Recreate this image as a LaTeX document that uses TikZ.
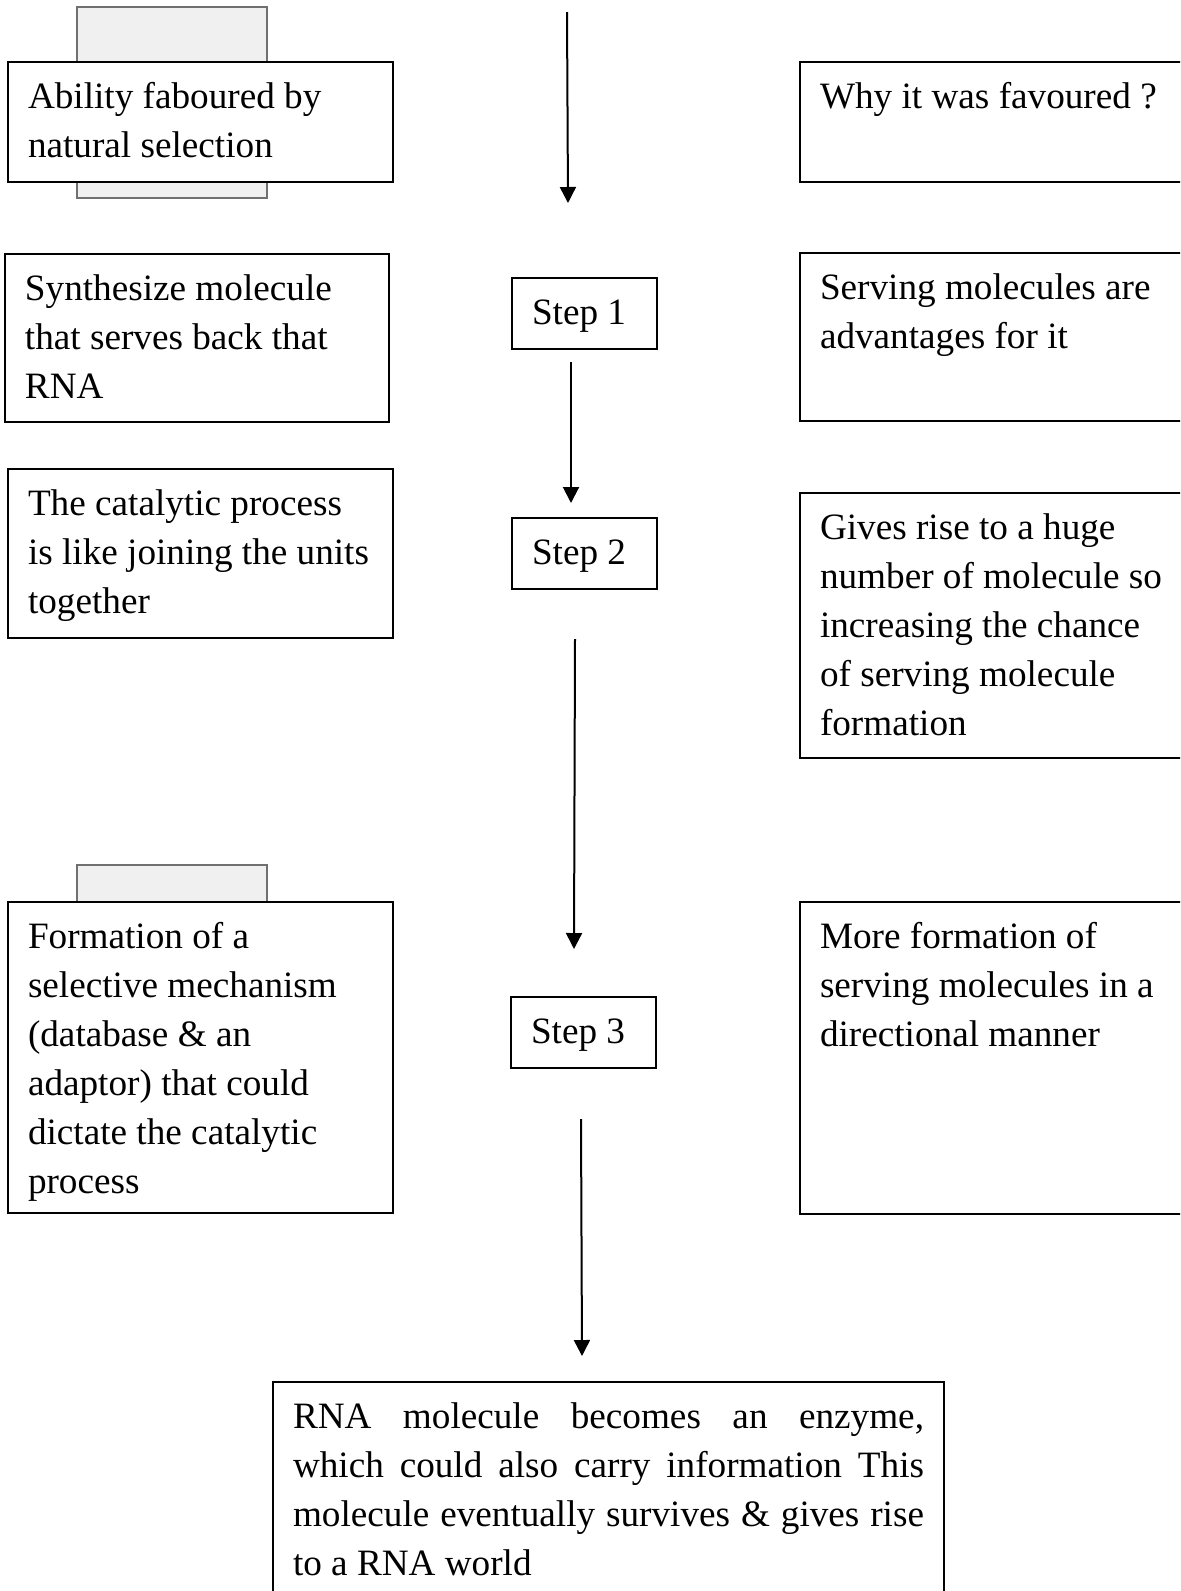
\documentclass[tikz,border=0pt]{standalone}
\usepackage{fontspec}
\setmainfont{Liberation Serif}
\usetikzlibrary{arrows.meta}

\definecolor{tabgray}{HTML}{F0F0F0}
\definecolor{tabline}{HTML}{707070}

\tikzset{
  box/.style 2 args={draw, fill=white, line width=1pt, anchor=north west, align=justify,
    inner xsep=10pt, inner ysep=6pt, text width=#1, text height=17pt, text depth=#2,
    font=\fontsize{18.6}{24.5}\selectfont},
  tab/.style={draw=tabline, fill=tabgray, line width=1pt},
  arr/.style={-{Triangle[width=8pt,length=8pt]}, line width=1pt},
}

\begin{document}
\begin{tikzpicture}[x=0.5pt,y=-0.5pt]
  \clip (0,0) rectangle (1180,1591);
  \draw[tab] (77,7) rectangle (267,198);
  \draw[tab] (77,865) rectangle (267,960);

  \node[box={172.5pt}{31pt}] (fav) at (7,61) {Ability faboured by\\natural selection};
  \node[box={172pt}{55pt}] (syn) at (4,253) {Synthesize molecule\\that serves back that\\RNA};
  \node[box={172.5pt}{55.5pt}] (cat) at (7,468) {The catalytic process\\is like joining the units\\together};
  \node[box={172.5pt}{126.5pt}] (form) at (7,901) {Formation of a\\selective mechanism\\(database \& an\\adaptor) that could\\dictate the catalytic\\process};

  \node[box={180.5pt}{31pt}] (why) at (799,61) {Why it was favoured ?};
  \node[box={180.5pt}{55pt}] (srv) at (799,252) {Serving molecules are\\advantages for it};
  \node[box={180.5pt}{103.5pt}] (rise) at (799,492) {Gives rise to a huge\\number of molecule so\\increasing the chance\\of serving molecule\\formation};
  \node[box={180.5pt}{127pt}] (more) at (799,901) {More formation of\\serving molecules in a\\directional manner};

  \node[box={52.5pt}{6.5pt}] (s1) at (511,277) {Step 1};
  \node[box={52.5pt}{6.5pt}] (s2) at (511,517) {Step 2};
  \node[box={52.5pt}{6.5pt}] (s3) at (510,996) {Step 3};

  \node[box={315.5pt}{86pt}] (rna) at (272,1381) {RNA molecule becomes an enzyme,\linebreak which could also carry information This\linebreak molecule eventually survives \& gives rise\linebreak to a RNA world};

  \coordinate (start) at (567,12);
  \draw[arr] (start) -- ([xshift=-8.25pt,yshift=37pt]s1.north);
  \draw[arr] ([xshift=-6.75pt,yshift=-6pt]s1.south) -- ([xshift=-6.75pt,yshift=7pt]s2.north);
  \draw[arr] ([xshift=-4.75pt,yshift=-24.5pt]s2.south) -- ([xshift=-4.75pt,yshift=23.5pt]s3.north);
  \draw[arr] ([xshift=-1.25pt,yshift=-25pt]s3.south) -- ([xshift=-13.25pt,yshift=12.5pt]rna.north);
\end{tikzpicture}
\end{document}
